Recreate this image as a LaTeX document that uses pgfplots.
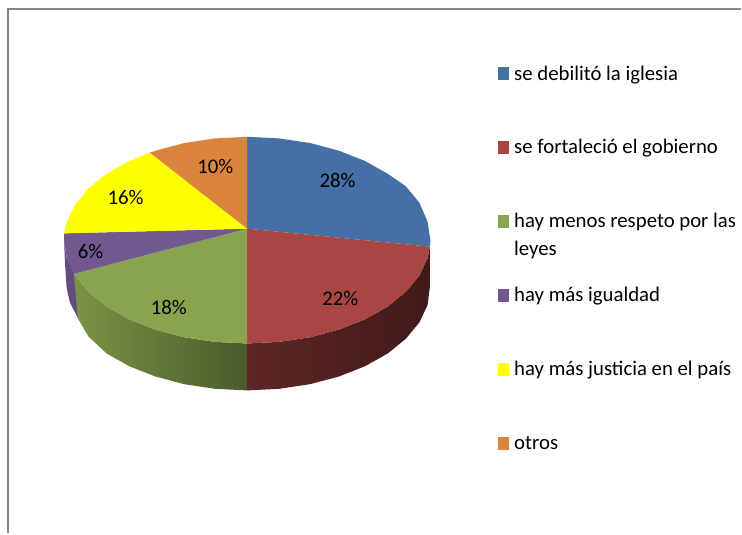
\documentclass[border=0pt]{standalone}
\usepackage{fontspec}
\setmainfont{Carlito}
\usepackage{pgfplots}
\pgfplotsset{compat=1.18}

\definecolor{cblue}{HTML}{4470A5}
\definecolor{cred}{HTML}{A94543}
\definecolor{cgreen}{HTML}{89A44E}
\definecolor{cpurple}{HTML}{71588F}
\definecolor{cyellow}{HTML}{FFFF00}
\definecolor{corange}{HTML}{DB843D}
\definecolor{cframe}{HTML}{858585}

\begin{document}
\begin{tikzpicture}
\begin{axis}[
  scale only axis, width=742pt, height=534pt,
  xmin=0, xmax=742, ymin=0, ymax=534,
  y dir=reverse, hide axis, clip=false,
  legend cell align=left,
  legend image code/.code={\fill[#1,draw=none] (0pt,22pt) rectangle (11pt,34.7pt);},
  legend style={
    at={(498.3/742,1-65/534)}, anchor=north west,
    draw=none, fill=none, inner sep=0pt, row sep=0pt,
    font=\fontsize{20.8}{25}\selectfont,
    nodes={inner sep=0pt, text height=15pt, text depth=59pt},
    /tikz/every even column/.style={column sep=5.5pt},
    /tikz/every odd column/.style={column sep=5.5pt},
  },
]
% page extent
\addplot[draw=none, forget plot] coordinates {(0,0)(742,534)};

% frame
\addplot[cframe, line width=2.2pt, forget plot] coordinates {(8,534)(8,8.7)(742,8.7)};

% side walls
\addplot[fill=cpurple!88!black, draw=none, forget plot] coordinates {
  (75,275)(66.8,258.5)(64.2,240.5)(65,262)(66.7,288)(70,303)(78.5,319.5)} --cycle;
\addplot[shade, left color=cgreen!90!black, right color=cgreen!55!black, draw=none, forget plot] coordinates {
  (74,274.3)(88.6,292.3)(106.9,307.1)(129.5,319.8)(155.7,330.1)(184.7,337.8)(215.6,342.4)(247.5,344)
  (247.5,391)(215.6,389.4)(184.7,384.8)(155.7,377.1)(129.5,366.8)(106.9,354.1)(88.6,337)(78,319)} --cycle;
\addplot[shade, left color=cred!55!black, right color=cred!38!black, draw=none, forget plot] coordinates {
  (247.5,344)(279.4,342.4)(310.3,337.8)(339.3,330.1)(365.5,319.8)(388.1,307.1)(406.4,292.3)(420,275.9)(428.2,258.5)(430.6,247)
  (430.8,270)(430.5,287.5)(428.2,305.5)(420,322.9)(406.4,339.3)(388.1,354.1)(365.5,366.8)(339.3,377.1)(310.3,384.8)(279.4,389.4)(247.5,391)} --cycle;

% top face
\addplot[fill=cblue, draw=none] coordinates {
  (247.5,229)(247.5,137)(279.4,138.6)(310.3,143.2)(339.3,150.9)(365.5,161.2)(388.1,173.9)(406.4,186.5)(420,203)(428.2,222)(431,240.5)(430.6,247)} --cycle;
\addlegendentry{se debilitó la iglesia}
\addplot[fill=cred, draw=none] coordinates {
  (247.5,229)(430.6,247)(428.2,258.5)(420,275.9)(406.4,292.3)(388.1,307.1)(365.5,319.8)(339.3,330.1)(310.3,337.8)(279.4,342.4)(247.5,344)} --cycle;
\addlegendentry{se fortaleció el gobierno}
\addplot[fill=cgreen, draw=none] coordinates {
  (247.5,229)(247.5,344)(215.6,342.4)(184.7,337.8)(155.7,330.1)(129.5,319.8)(106.9,307.1)(88.6,292.3)(74,274.3)} --cycle;
\addlegendentry{\parbox[t]{226pt}{\baselineskip=28pt hay menos respeto por las\\leyes}}
\addplot[fill=cpurple, draw=none] coordinates {
  (247.5,229)(74,274.3)(66.8,258.5)(64.2,240.5)(64.2,233.7)} --cycle;
\addlegendentry{hay más igualdad}
\addplot[fill=cyellow, draw=none] coordinates {
  (247.5,229)(64.2,233.7)(66.8,222.5)(75,205.1)(88.6,188.7)(106.9,173.9)(129.5,161.2)(150,152.8)} --cycle;
\addlegendentry{hay más justicia en el país}
\addplot[fill=corange, draw=none] coordinates {
  (247.5,229)(150,152.8)(155.7,150.9)(184.7,143.2)(215.6,138.6)(247.5,137)} --cycle;
\addlegendentry{otros}

% slice labels
\node[font=\fontsize{20.8}{25}\selectfont] at (axis cs:338,181) {28\%};
\node[font=\fontsize{20.8}{25}\selectfont] at (axis cs:340.7,299) {22\%};
\node[font=\fontsize{20.8}{25}\selectfont] at (axis cs:169,308) {18\%};
\node[font=\fontsize{20.8}{25}\selectfont] at (axis cs:90.7,252) {6\%};
\node[font=\fontsize{20.8}{25}\selectfont] at (axis cs:125.7,198) {16\%};
\node[font=\fontsize{20.8}{25}\selectfont] at (axis cs:215.7,166.7) {10\%};
\end{axis}
\end{tikzpicture}
\end{document}
